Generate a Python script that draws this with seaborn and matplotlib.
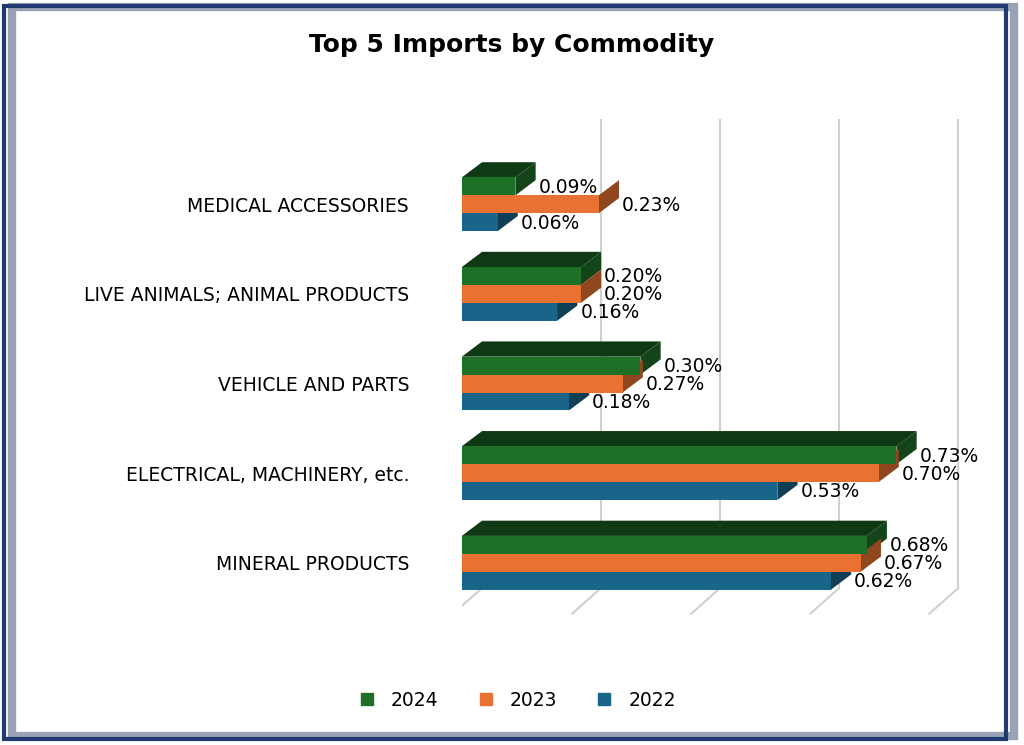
import pandas as pd
import matplotlib.pyplot as plt
import matplotlib.colors as mcolors
from matplotlib.patches import Polygon, Rectangle
from matplotlib.lines import Line2D
import seaborn as sns

# Data (share of imports, %)
commodities = [
    "MEDICAL ACCESSORIES",
    "LIVE ANIMALS; ANIMAL PRODUCTS",
    "VEHICLE AND PARTS",
    "ELECTRICAL, MACHINERY, etc.",
    "MINERAL PRODUCTS",
]
years = ["2024", "2023", "2022"]
values_2024 = [0.09, 0.20, 0.30, 0.73, 0.68]
values_2023 = [0.23, 0.20, 0.27, 0.70, 0.67]
values_2022 = [0.06, 0.16, 0.18, 0.53, 0.62]

colors = {"2024": "#1E7027", "2023": "#E97132", "2022": "#196589"}

df = pd.DataFrame({
    "Commodity": commodities * 3,
    "Year": ["2024"] * 5 + ["2023"] * 5 + ["2022"] * 5,
    "Value": values_2024 + values_2023 + values_2022,
})

sns.set_style("white")
plt.rcParams["font.family"] = ["DejaVu Sans"]
plt.rcParams["text.color"] = "black"
plt.rcParams["ytick.color"] = "black"

fig = plt.figure(figsize=(10.24, 7.45), dpi=100)
ax = fig.add_axes([0.451, 0.17, 0.50, 0.67])

sns.barplot(data=df, y="Commodity", x="Value", hue="Year", order=commodities,
            hue_order=years, palette=colors, orient="h", width=0.6,
            saturation=1, legend=False, ax=ax, zorder=3, linewidth=0)

dx, dy = 0.034, -0.17  # depth offset in data units
ax.set_xlim(0, 0.86)
ax.set_ylim(4.62, -0.95)

# back-wall gridlines and floor slants
y_bot = 4.45
for g in [0, 0.2, 0.4, 0.6, 0.8]:
    if g > 0:
        ax.plot([g + dx, g + dx], [-0.95, y_bot + dy], color="#d0d0d0", lw=1.5, zorder=1)
    ax.plot([g + dx, g - 0.015], [y_bot + dy, y_bot + 0.12], color="#d0d0d0", lw=1.5, zorder=1)

for i, patch in enumerate(ax.patches):
    x0, y0 = patch.get_x(), patch.get_y()
    w, h = patch.get_width(), patch.get_height()
    base = patch.get_facecolor()
    dark = tuple(c * 0.62 for c in mcolors.to_rgb(base))
    darker = tuple(c * 0.5 for c in mcolors.to_rgb(base))
    # side face
    ax.add_patch(Polygon([(x0 + w, y0), (x0 + w + dx, y0 + dy), (x0 + w + dx, y0 + h + dy),
                          (x0 + w, y0 + h)], closed=True, facecolor=dark, lw=0, zorder=2))
    # top face only for the top bar of each group
    if i < len(commodities):
        ax.add_patch(Polygon([(x0, y0), (x0 + dx, y0 + dy), (x0 + w + dx, y0 + dy),
                              (x0 + w, y0)], closed=True, facecolor=darker, lw=0, zorder=2))
    ax.text(x0 + w + dx + 0.005, y0 + h * 0.55, f"{w:.2f}%", va="center", ha="left",
            fontsize=13.5, color="black", zorder=5)

ax.set_xlabel("")
ax.set_ylabel("")
ax.set_xticks([])
ax.tick_params(axis="y", length=0, labelsize=13.5, pad=38)
for s in ax.spines.values():
    s.set_visible(False)

fig.text(0.5, 0.94, "Top 5 Imports by Commodity", ha="center", va="center",
         fontsize=18, fontweight="bold", color="black")

# legend
handles = [Line2D([], [], marker="s", ls="", markersize=9, color=colors[y]) for y in years]
fig.legend(handles, years, loc="center", bbox_to_anchor=(0.5, 0.06), ncol=3,
           frameon=False, fontsize=13.5, handletextpad=0.3, columnspacing=1.5)

# frame with shadow
fig.patches.append(Rectangle((0.012, 0.012), 0.978, 0.978, transform=fig.transFigure,
                             fill=False, edgecolor="#9aa3b5", lw=6, zorder=0))
fig.patches.append(Rectangle((0.004, 0.008), 0.978, 0.984, transform=fig.transFigure,
                             fill=False, edgecolor="#1F3A6E", lw=3, zorder=1))

fig.savefig("out.png", dpi=100)
